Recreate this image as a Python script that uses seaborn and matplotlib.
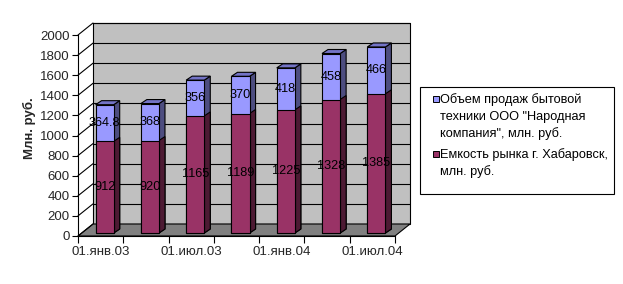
import matplotlib
matplotlib.use("Agg")
import matplotlib.pyplot as plt
import seaborn as sns
import numpy as np
from matplotlib.patches import Polygon, Rectangle
from matplotlib.transforms import offset_copy

# ---- data ----
dates = ["01.янв.03", "01.апр.03", "01.июл.03", "01.окт.03",
         "01.янв.04", "01.апр.04", "01.июл.04"]
market = [912, 920, 1165, 1189, 1225, 1328, 1385]
sales = [364.8, 368, 356, 370, 418, 458, 466]
market_labels = ["912", "920", "1165", "1189", "1225", "1328", "1385"]
sales_labels = ["364.8", "368", "356", "370", "418", "458", "466"]
xtick_labels = ["01.янв.03", "01.июл.03", "01.янв.04", "01.июл.04"]
y_ticks = list(range(0, 2001, 200))
sales_name = ["Объем продаж бытовой", "техники ООО \"Народная", "компания\", млн. руб."]
market_name = ["Емкость рынка г. Хабаровск,", "млн. руб."]
y_title = "Млн. руб."

totals = [m + s for m, s in zip(market, sales)]

sns.set_style("white")
plt.rcParams["font.family"] = ["Liberation Sans", "DejaVu Sans"]

W, H = 623, 284
fig = plt.figure(figsize=(W / 100, H / 100), dpi=100)
ax_l, ax_b, ax_w, ax_h = 78, 48, 317, 201
ax = fig.add_axes([ax_l / W, ax_b / H, ax_w / W, ax_h / H])
ax.set_facecolor("none")

n = len(dates)
xmin, xmax = -0.5, n - 0.5
ymin, ymax = 0, 2000
ax.set_xlim(xmin, xmax)
ax.set_ylim(ymin, ymax)

px_x = (xmax - xmin) / ax_w
px_y = (ymax - ymin) / ax_h

# wall offsets (px)
WX, WY = 15, 12
wx, wy = WX * px_x, WY * px_y

# back wall
ax.add_patch(Rectangle((xmin + wx, ymin + wy), xmax - xmin, ymax - ymin,
                       facecolor="#C0C0C0", edgecolor="black", lw=0.8,
                       clip_on=False, zorder=0))
# floor
ax.add_patch(Polygon([(xmin, 0), (xmax, 0), (xmax + wx, wy), (xmin + wx, wy)],
                     closed=True, facecolor="#808080", edgecolor="black",
                     lw=0.8, clip_on=False, zorder=0.5))
# gridlines on back wall and left wall diagonals
for yv in y_ticks:
    if yv > 0:
        ax.plot([xmin + wx, xmax + wx], [yv + wy, yv + wy], color="black",
                lw=0.8, clip_on=False, zorder=0.6)
    ax.plot([xmin, xmin + wx], [yv, yv + wy], color="black", lw=0.8,
            clip_on=False, zorder=0.6)

# bars
BX, BY = 4, 3          # bar offset from front plane (px)
DX, DY = 6, 4          # bar depth (px)
bar_tr = offset_copy(ax.transData, fig=fig, x=BX, y=BY, units="dots")

front_blue, side_blue, top_blue = "#9999FF", "#4D4D80", "#7373C6"
front_red, side_red = "#993366", "#4D1A33"

k0 = len(ax.patches)
sns.barplot(x=dates, y=totals, order=dates, color=front_blue, saturation=1,
            width=0.4, edgecolor="black", linewidth=0.8, ax=ax, zorder=2)
blue_patches = ax.patches[k0:]
k1 = len(ax.patches)
sns.barplot(x=dates, y=market, order=dates, color=front_red, saturation=1,
            width=0.4, edgecolor="black", linewidth=0.8, ax=ax, zorder=2.1)
red_patches = ax.patches[k1:]

dxd, dyd = DX * px_x, DY * px_y
for patches, side_col, top_col, z in [(blue_patches, side_blue, top_blue, 1.8),
                                      (red_patches, side_red, None, 1.9)]:
    for p in patches:
        p.set_transform(bar_tr)
        x1 = p.get_x() + p.get_width()
        x0 = p.get_x()
        h = p.get_height()
        ax.add_patch(Polygon([(x1, 0), (x1 + dxd, dyd), (x1 + dxd, h + dyd), (x1, h)],
                             closed=True, facecolor=side_col, edgecolor="black",
                             lw=0.8, transform=bar_tr, zorder=z, clip_on=False))
        if top_col:
            ax.add_patch(Polygon([(x0, h), (x1, h), (x1 + dxd, h + dyd), (x0 + dxd, h + dyd)],
                                 closed=True, facecolor=top_col, edgecolor="black",
                                 lw=0.8, transform=bar_tr, zorder=z, clip_on=False))

# value labels
for i in range(n):
    rp = red_patches[i]
    cx = rp.get_x() + rp.get_width() / 2
    ax.text(cx, market[i] / 2, market_labels[i], transform=bar_tr, ha="center",
            va="center", fontsize=9.2, color="black", zorder=5)
    ax.text(cx, market[i] + sales[i] / 2, sales_labels[i], transform=bar_tr,
            ha="center", va="center", fontsize=9.2, color="black", zorder=5)

# axes styling
for s in ["top", "right"]:
    ax.spines[s].set_visible(False)
for s in ["left", "bottom"]:
    ax.spines[s].set_color("black")
    ax.spines[s].set_linewidth(0.8)
ax.set_yticks(y_ticks)
ax.set_yticklabels([str(v) for v in y_ticks], fontsize=9.5)
ax.tick_params(axis="y", length=4, width=0.8, color="black", pad=2, left=True)
ax.set_xticks([0, 2, 4, 6])
ax.set_xticklabels(xtick_labels, fontsize=9.5)
ax.set_xticks(np.arange(xmin, xmax + 0.01, 1.0), minor=True)
ax.tick_params(axis="x", which="major", length=0, pad=7)
ax.tick_params(axis="x", which="minor", length=5, width=0.8, color="black", bottom=True)
ax.set_xlabel("")
ax.set_ylabel("")

fig.text(29 / W, 1 - 128 / H, y_title, rotation=90, ha="center", va="center",
         fontsize=9.5, fontweight="bold")

# legend (manual, Excel-like: marker beside first line)
def fx(px):
    return px / W

def fy(py):
    return 1 - py / H

fig.patches.append(Rectangle((fx(420), fy(194)), fx(614) - fx(420), fy(87) - fy(194),
                             transform=fig.transFigure, facecolor="white",
                             edgecolor="black", lw=0.8, zorder=1))
entries = [(front_blue, sales_name, 103), (front_red, market_name, 158)]
for col, lines, base in entries:
    fig.patches.append(Rectangle((fx(433), fy(base - 1)), 6 / W, 6 / H,
                                 transform=fig.transFigure, facecolor=col,
                                 edgecolor="black", lw=0.7, zorder=2))
    for j, line in enumerate(lines):
        fig.text(fx(440), fy(base + j * 17), line, ha="left", va="baseline",
                 fontsize=9.2, color="black", zorder=3)

fig.savefig("out.png", dpi=100, facecolor="white")
